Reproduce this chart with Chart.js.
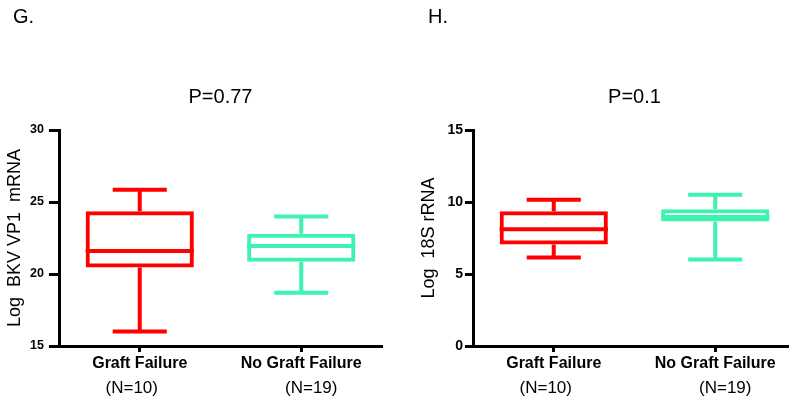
<!DOCTYPE html>
<html>
<head>
<meta charset="utf-8">
<script src="https://cdn.jsdelivr.net/npm/chart.js@4.4.0/dist/chart.umd.min.js"></script>
<style>
  html, body { margin: 0; padding: 0; background: #fff; overflow: hidden; }
  #wrapG { position: absolute; left: 0; top: 0; width: 395px; height: 405px; }
  #wrapH { position: absolute; left: 395px; top: 0; width: 420px; height: 405px; }
</style>
</head>
<body>
<div id="wrapG"><canvas id="chartG"></canvas></div>
<div id="wrapH"><canvas id="chartH"></canvas></div>
<script>
var categories = ['Graft Failure', 'No Graft Failure'];
var groupN = ['(N=10)', '(N=19)'];
var boxColors = ['#ff0000', '#40f2b0'];

// G. Log BKV VP1 mRNA
var bkvMin = [16.0, 18.7];
var bkvQ1 = [20.45, 20.85];
var bkvMedian = [21.6, 21.95];
var bkvQ3 = [24.35, 22.8];
var bkvMax = [25.85, 24.0];
var bkvTicks = [15, 20, 25, 30];

// H. Log 18S rRNA
var rrnaMin = [6.15, 6.0];
var rrnaQ1 = [7.05, 8.65];
var rrnaMedian = [8.1, 8.95];
var rrnaQ3 = [9.35, 9.5];
var rrnaMax = [10.15, 10.5];
var rrnaTicks = [0, 5, 10, 15];

var FONT = '"Liberation Sans", Arial, sans-serif';

// whiskers + median on top of the floating bars
var boxPlugin = {
  id: 'boxWhiskers',
  afterDatasetsDraw: function(chart) {
    var ctx = chart.ctx;
    var y = chart.scales.y;
    var ds = chart.data.datasets[0];
    ctx.save();
    ctx.lineWidth = 4;
    ctx.lineCap = 'butt';
    chart.getDatasetMeta(0).data.forEach(function(bar, i) {
      var half = bar.width / 2;
      var cap = bar.width / 4;
      var yMin = y.getPixelForValue(ds.whiskerMin[i]);
      var yMax = y.getPixelForValue(ds.whiskerMax[i]);
      var yQ1 = y.getPixelForValue(ds.data[i][0]);
      var yQ3 = y.getPixelForValue(ds.data[i][1]);
      var yMed = y.getPixelForValue(ds.median[i]);
      ctx.strokeStyle = boxColors[i];
      ctx.beginPath();
      ctx.moveTo(bar.x, yQ3); ctx.lineTo(bar.x, yMax);
      ctx.moveTo(bar.x - cap, yMax); ctx.lineTo(bar.x + cap, yMax);
      ctx.moveTo(bar.x, yQ1); ctx.lineTo(bar.x, yMin);
      ctx.moveTo(bar.x - cap, yMin); ctx.lineTo(bar.x + cap, yMin);
      ctx.moveTo(bar.x - half, yMed); ctx.lineTo(bar.x + half, yMed);
      ctx.stroke();
    });
    ctx.restore();
  },
  afterDraw: function(chart) {
    var ctx = chart.ctx;
    var x = chart.scales.x;
    var o = chart.options.plugins.boxWhiskers;
    ctx.save();
    ctx.fillStyle = '#000';
    ctx.textBaseline = 'alphabetic';
    ctx.textAlign = 'left';
    ctx.font = '20px ' + FONT;
    ctx.fillText(o.letter, o.letterX, 23);
    ctx.textAlign = 'center';
    ctx.font = '17px ' + FONT;
    groupN.forEach(function(t, i) {
      ctx.fillText(t, x.getPixelForValue(i) + o.nShift[i], 393);
    });
    ctx.restore();
  }
};

function makeChart(id, o) {
  var ctx = document.getElementById(id);
  return new Chart(ctx, {
    type: 'bar',
    data: {
      labels: categories,
      datasets: [{
        data: o.q1.map(function(v, i) { return [v, o.q3[i]]; }),
        whiskerMin: o.min,
        whiskerMax: o.max,
        median: o.median,
        backgroundColor: 'rgba(0,0,0,0)',
        borderColor: boxColors,
        borderWidth: 4,
        borderSkipped: false,
        barPercentage: 0.67,
        categoryPercentage: 1
      }]
    },
    options: {
      responsive: true,
      maintainAspectRatio: false,
      animation: false,
      layout: { padding: { left: 0, right: o.padRight, top: 0, bottom: 0 } },
      plugins: {
        legend: { display: false },
        tooltip: { enabled: false },
        title: {
          display: true,
          text: o.title,
          fullSize: false,
          color: '#000',
          font: { family: FONT, size: 20, weight: 'normal', lineHeight: 1.2 },
          padding: { top: 85, bottom: 21 }
        },
        boxWhiskers: { letter: o.letter, letterX: o.letterX, nShift: [-8, 10] }
      },
      scales: {
        x: {
          offset: true,
          afterFit: function(scale) { scale.height = 59; },
          grid: { display: true, offset: false, drawOnChartArea: false, drawTicks: true,
                  tickLength: 6, tickWidth: 3, tickColor: '#000', color: '#000' },
          border: { display: true, color: '#000', width: 3 },
          ticks: { color: '#000', padding: 2, maxRotation: 0,
                   font: { family: FONT, size: 16, weight: 'bold' } }
        },
        y: {
          min: o.ticks[0],
          max: o.ticks[o.ticks.length - 1],
          afterFit: function(scale) { scale.width = o.axisWidth; },
          afterBuildTicks: function(scale) {
            scale.ticks = o.ticks.map(function(v) { return { value: v }; });
          },
          grid: { display: true, drawOnChartArea: false, drawTicks: true,
                  tickLength: o.tickLen, tickWidth: 3, tickColor: '#000', color: '#000' },
          border: { display: true, color: '#000', width: 3 },
          ticks: { color: '#000', padding: o.tickPad,
                   font: { family: FONT, size: o.tickSize, weight: 'bold' } },
          title: {
            display: true,
            text: o.yTitle,
            color: '#000',
            font: { family: FONT, size: 18, weight: 'normal', lineHeight: 1.2 },
            padding: { top: o.yTitlePad, bottom: 0 }
          }
        }
      }
    },
    plugins: [boxPlugin]
  });
}

makeChart('chartG', {
  q1: bkvQ1, q3: bkvQ3, min: bkvMin, max: bkvMax, median: bkvMedian, ticks: bkvTicks,
  title: 'P=0.77', letter: 'G.', letterX: 13, yTitle: 'Log  BKV VP1  mRNA',
  axisWidth: 59, padRight: 13, tickLen: 10, tickPad: 5, tickSize: 12.5, yTitlePad: 4
});

makeChart('chartH', {
  q1: rrnaQ1, q3: rrnaQ3, min: rrnaMin, max: rrnaMax, median: rrnaMedian, ticks: rrnaTicks,
  title: 'P=0.1', letter: 'H.', letterX: 33, yTitle: 'Log  18S rRNA',
  axisWidth: 78, padRight: 19, tickLen: 8, tickPad: 2, tickSize: 14, yTitlePad: 23
});
</script>
</body>
</html>
